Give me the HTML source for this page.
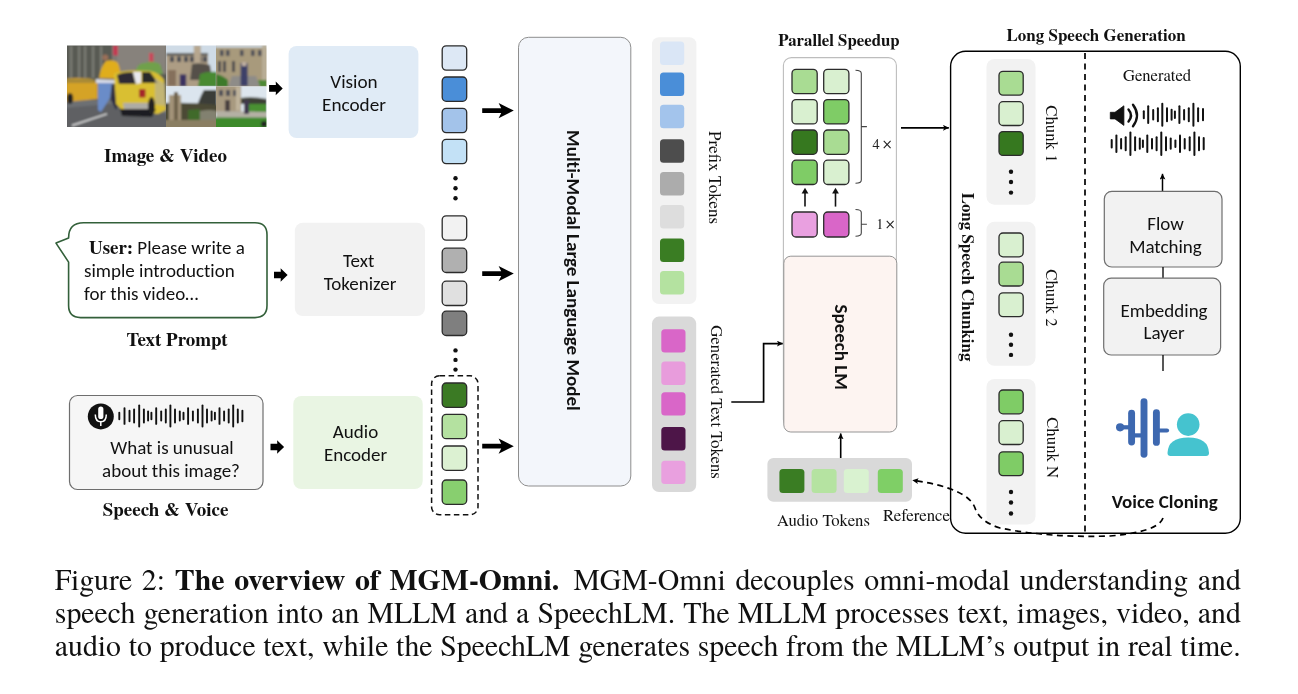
<!DOCTYPE html><html><head><meta charset="utf-8"><title>MGM-Omni overview</title><style>
html,body{margin:0;padding:0;background:#fff;} text.s,tspan.s{font-variant-ligatures:none;}
#wrap{position:relative;width:1298px;height:694px;overflow:hidden;background:#fff;}
svg{position:absolute;left:0;top:0;}
.cap{position:absolute;left:54.8px;width:1186px;font-family:'TeX Gyre Termes', 'Liberation Serif', serif;font-size:29.8px;color:#111;white-space:nowrap;text-align:justify;text-align-last:justify;line-height:32.8px;}
.cap span.l{display:block;}
</style></head><body><div id="wrap">
<svg width="1298" height="694" viewBox="0 0 1298 694">
<defs>
<linearGradient id="bld" x1="0" y1="0" x2="1" y2="0"><stop offset="0" stop-color="#4f4c48"/><stop offset="0.5" stop-color="#6d6862"/><stop offset="1" stop-color="#8c8780"/></linearGradient>
<linearGradient id="road" x1="0" y1="0" x2="0" y2="1"><stop offset="0" stop-color="#6a6b6d"/><stop offset="1" stop-color="#4a4b4e"/></linearGradient>
<linearGradient id="sky" x1="0" y1="0" x2="0" y2="1"><stop offset="0" stop-color="#b9cde0"/><stop offset="1" stop-color="#e8eef2"/></linearGradient>
<clipPath id="c1"><rect x="67" y="45.5" width="99" height="81.5"/></clipPath>
<clipPath id="g1"><rect x="166" y="45.5" width="50" height="41"/></clipPath>
<clipPath id="g2"><rect x="216" y="45.5" width="50.5" height="41"/></clipPath>
<clipPath id="g3"><rect x="166" y="86.5" width="50" height="40.5"/></clipPath>
<clipPath id="g4"><rect x="216" y="86.5" width="50.5" height="40.5"/></clipPath>
<marker id="ah" markerUnits="userSpaceOnUse" viewBox="0 0 6 6" refX="5.8" refY="3" markerWidth="6" markerHeight="6" orient="auto"><path d="M0,0.1 L6,3 L0,5.9 L1.3,3 Z" fill="#000"/></marker>
</defs>
<filter id="soft" x="0" y="0" width="1" height="1"><feGaussianBlur stdDeviation="0.85"/></filter>
<g clip-path="url(#c1)"><g filter="url(#soft)">
<rect x="64" y="42" width="105" height="62" rx="0" fill="#595a52" stroke="none" stroke-width="1" />
<rect x="70" y="46" width="2.2" height="32" fill="#8a8c84" opacity="0.7"/>
<rect x="78" y="46" width="2.2" height="32" fill="#8a8c84" opacity="0.7"/>
<rect x="84" y="46" width="2.2" height="32" fill="#8a8c84" opacity="0.7"/>
<rect x="92" y="46" width="2.2" height="32" fill="#8a8c84" opacity="0.7"/>
<rect x="100" y="46" width="2.2" height="32" fill="#8a8c84" opacity="0.7"/>
<rect x="112" y="42" width="57" height="32" rx="0" fill="#7f7a74" stroke="none" stroke-width="1" />
<rect x="118" y="45" width="1.2" height="26" fill="#a09a92" opacity="0.6"/>
<rect x="121" y="45" width="1.2" height="26" fill="#a09a92" opacity="0.6"/>
<rect x="124" y="45" width="1.2" height="26" fill="#a09a92" opacity="0.6"/>
<rect x="127" y="45" width="1.2" height="26" fill="#a09a92" opacity="0.6"/>
<rect x="130" y="45" width="1.2" height="26" fill="#a09a92" opacity="0.6"/>
<rect x="133" y="45" width="1.2" height="26" fill="#a09a92" opacity="0.6"/>
<rect x="136" y="45" width="1.2" height="26" fill="#a09a92" opacity="0.6"/>
<rect x="139" y="45" width="1.2" height="26" fill="#a09a92" opacity="0.6"/>
<rect x="142" y="45" width="1.2" height="26" fill="#a09a92" opacity="0.6"/>
<rect x="145" y="45" width="1.2" height="26" fill="#a09a92" opacity="0.6"/>
<rect x="148" y="45" width="1.2" height="26" fill="#a09a92" opacity="0.6"/>
<rect x="151" y="45" width="1.2" height="26" fill="#a09a92" opacity="0.6"/>
<rect x="154" y="45" width="1.2" height="26" fill="#a09a92" opacity="0.6"/>
<rect x="157" y="45" width="1.2" height="26" fill="#a09a92" opacity="0.6"/>
<rect x="160" y="45" width="1.2" height="26" fill="#a09a92" opacity="0.6"/>
<rect x="163" y="45" width="1.2" height="26" fill="#a09a92" opacity="0.6"/>
<rect x="113" y="45.5" width="5" height="10" fill="#c23a52"/>
<rect x="149" y="53" width="4.5" height="11" fill="#c84a5a"/>
<path d="M135,74 Q137,62 145,63 Q152,60 160,64 L163,74 Z" fill="#6fa04c"/>
<path d="M64,100 L169,100 L169,130 L64,130 Z" fill="#6d6f73"/>
<path d="M64,108 L110,104 L169,114 L169,130 L64,130 Z" fill="#5e6064"/>
<path d="M72,125.5 L107,113.8" stroke="#e2e2e2" stroke-width="1.4"/>
<path d="M66,79 Q70,77.5 90,78.5 L97.7,82 L97.7,99 L66,102 Z" fill="#d5a325"/>
<rect x="66" y="79" width="30" height="4" fill="#8a7a40" opacity="0.6"/>
<ellipse cx="70" cy="98.5" rx="3.2" ry="5.5" fill="#222"/>
<path d="M99,78 Q101,66 106,61 Q112,59 117,62 Q121,67 120,79 Z" fill="#e0ad1c"/>
<circle cx="105.3" cy="57.5" r="3" fill="#9a7058"/>
<path d="M96,79 L133,81 L132,84 L96,83 Z" fill="#d8dce8"/>
<path d="M98,83 L112,83 L110,98 L101,112 L98,110 Z" fill="#6a8cc8"/>
<path d="M112,84 L118,86 L120,100 L116,110 L111,100 Z" fill="#2a2a40"/>
<path d="M114,74 Q118,70.5 135,70.5 L150,71 Q160,73 164,80 L166,110 L158,114 L122,110 L116,104 Z" fill="#d9bf33"/>
<path d="M117,75 Q122,72 133,72 L136,84 L119,84 Z" fill="#2e2c36"/>
<path d="M133,72 L141,72 L141,83 L136,84 Z" fill="#e8e8ee"/>
<path d="M142,72 L150,72 L158,83 L142,83 Z" fill="#2c2a2a"/>
<rect x="139" y="89" width="6.5" height="8.5" rx="1" fill="#a5282c" stroke="none" stroke-width="1" />
<path d="M123,103 L150,103 L150,109 L124,109 Z" fill="#aeaca4"/>
<path d="M120,109 L156,109 L152,117 L122,116 Z" fill="#1e1e20"/>
<ellipse cx="151.5" cy="106" rx="3.5" ry="9" fill="#222"/>
<path d="M155,78 L165,84 L165,106 L155,104 Z" fill="#b8b090" opacity="0.7"/>
</g></g>
<g clip-path="url(#g1)"><g filter="url(#soft)">
<rect x="162" y="42" width="58" height="48" rx="0" fill="#cfdbe6" stroke="none" stroke-width="1" />
<path d="M166,53.5 Q185,52 208,55 L208,87 L166,87 Z" fill="#ad9d84"/>
<rect x="166" y="53" width="42" height="2.5" rx="0" fill="#5a5a58" stroke="none" stroke-width="1" />
<rect x="170" y="56.5" width="4" height="5.5" rx="0" fill="#4c4e54" stroke="none" stroke-width="1" />
<rect x="177" y="56.5" width="4" height="5.5" rx="0" fill="#4c4e54" stroke="none" stroke-width="1" />
<rect x="184" y="56.5" width="4" height="5.5" rx="0" fill="#4c4e54" stroke="none" stroke-width="1" />
<rect x="190" y="56.5" width="4" height="5.5" rx="0" fill="#4c4e54" stroke="none" stroke-width="1" />
<rect x="198" y="56.5" width="4" height="5.5" rx="0" fill="#4c4e54" stroke="none" stroke-width="1" />
<rect x="203" y="56.5" width="4" height="5.5" rx="0" fill="#4c4e54" stroke="none" stroke-width="1" />
<rect x="193.8" y="45.5" width="7" height="20" rx="0" fill="#b6a68e" stroke="none" stroke-width="1" />
<path d="M192,64 Q200,62 210,65 L212,80 L190,80 Z" fill="#55504a"/>
<path d="M200,74 Q208,71 217,72 L217,87 L198,87 Z" fill="#4a8a30"/>
<rect x="179.8" y="74.4" width="6.4" height="12" rx="0" fill="#3a3260" stroke="none" stroke-width="1" />
<rect x="168" y="70" width="8" height="16" rx="0" fill="#6a5040" stroke="none" stroke-width="1" opacity="0.6"/>
</g></g>
<g clip-path="url(#g2)"><g filter="url(#soft)">
<rect x="213" y="42" width="57" height="48" rx="0" fill="#a89a7c" stroke="none" stroke-width="1" />
<rect x="215" y="45" width="53" height="2.5" rx="0" fill="#d0dce6" stroke="none" stroke-width="1" />
<rect x="220" y="50" width="3.5" height="6" rx="0" fill="#4e5058" stroke="none" stroke-width="1" />
<rect x="226" y="50" width="3.5" height="6" rx="0" fill="#4e5058" stroke="none" stroke-width="1" />
<rect x="240" y="50" width="3.5" height="6" rx="0" fill="#4e5058" stroke="none" stroke-width="1" />
<rect x="251" y="50" width="3.5" height="6" rx="0" fill="#4e5058" stroke="none" stroke-width="1" />
<rect x="258" y="50" width="3.5" height="6" rx="0" fill="#4e5058" stroke="none" stroke-width="1" />
<rect x="218" y="61" width="3" height="11" rx="0" fill="#4e4c50" stroke="none" stroke-width="1" />
<rect x="223" y="61" width="3" height="11" rx="0" fill="#4e4c50" stroke="none" stroke-width="1" />
<rect x="232" y="61" width="3" height="11" rx="0" fill="#4e4c50" stroke="none" stroke-width="1" />
<rect x="262" y="45.5" width="5" height="40" rx="0" fill="#b8ad96" stroke="none" stroke-width="1" />
<path d="M232,76 L256,76 L260,87 L228,87 Z" fill="#8e8c88"/>
<path d="M216,74 Q222,75 228,80 L228,87 L216,87 Z" fill="#3c7a2a"/>
<path d="M258,80 L267,80 L267,87 L260,87 Z" fill="#4e8a34"/>
<rect x="240.6" y="63" width="7" height="23" rx="0" fill="#3c4068" stroke="none" stroke-width="1" />
<rect x="241.8" y="62" width="4.6" height="4" rx="0" fill="#c0b0a0" stroke="none" stroke-width="1" />
</g></g>
<g clip-path="url(#g3)"><g filter="url(#soft)">
<rect x="162" y="84" width="58" height="47" rx="0" fill="#dbe5ee" stroke="none" stroke-width="1" />
<path d="M204,90 L217,90 L217,112 L196,112 Q198,100 204,90 Z" fill="#3a3c38"/>
<path d="M163,103 Q190,102 219,105 L219,131 L163,131 Z" fill="#4c4a36"/>
<rect x="169" y="95" width="12" height="32" rx="0" fill="#a29378" stroke="none" stroke-width="1" />
<rect x="174" y="92" width="4" height="35" rx="0" fill="#6e604a" stroke="none" stroke-width="1" />
<path d="M188,110 L200,109 L200,120 L188,121 Z" fill="#3f6a2c"/>
<path d="M200,111 Q210,109 217,111 L217,121 L200,120 Z" fill="#9a9888" opacity="0.7"/>
<rect x="163" y="120" width="56" height="10" rx="0" fill="#8a7e62" stroke="none" stroke-width="1" />
</g></g>
<g clip-path="url(#g4)"><g filter="url(#soft)">
<rect x="213" y="84" width="57" height="47" rx="0" fill="#dde6ee" stroke="none" stroke-width="1" />
<rect x="213" y="84" width="28" height="28.5" rx="0" fill="#a89a80" stroke="none" stroke-width="1" />
<rect x="219" y="90" width="4" height="6" rx="0" fill="#4e5058" stroke="none" stroke-width="1" />
<rect x="226" y="90" width="4" height="6" rx="0" fill="#4e5058" stroke="none" stroke-width="1" />
<rect x="233" y="90" width="4" height="6" rx="0" fill="#4e5058" stroke="none" stroke-width="1" />
<rect x="225" y="100" width="5" height="12" rx="0" fill="#4a4040" stroke="none" stroke-width="1" />
<rect x="236" y="86.5" width="4" height="24" rx="0" fill="#c0b49c" stroke="none" stroke-width="1" />
<path d="M241,98 Q252,96 267,99 L267,104 L241,104 Z" fill="#3e4036"/>
<path d="M246,104 L267,104 L267,113 L246,113 Z" fill="#4a9030"/>
<path d="M216,111 L267,112 L267,118 L216,118 Z" fill="#b4b0a4"/>
<path d="M213,117.5 L270,117.5 L270,131 L213,131 Z" fill="#3e8a2c"/>
<rect x="244" y="100" width="5" height="14" rx="0" fill="#403850" stroke="none" stroke-width="1" />
<circle cx="264" cy="124" r="3" fill="#222"/>
</g></g>
<text x="165.5" y="161.5" font-family="'TeX Gyre Termes', 'Liberation Serif', serif" font-size="19" font-weight="bold" text-anchor="middle" fill="#111" >Image &amp; Video</text>
<path d="M83.6,222.8 L255,222.8 Q267,222.8 267,234.8 L267,305.6 Q267,317.6 255,317.6 L80.6,317.6 Q68.6,317.6 68.6,305.6 L68.6,262.1 L56,243.1 L68.6,237.9 Q68.6,222.8 83.6,222.8 Z" fill="#fff" stroke="#33603a" stroke-width="1.6" stroke-linejoin="round"/>
<text x="89" y="254" font-size="19" fill="#111"><tspan font-family="'TeX Gyre Termes', 'Liberation Serif', serif" font-weight="bold">User:</tspan><tspan font-family="Carlito, 'Liberation Sans', sans-serif"> Please write a</tspan></text>
<text class="s" x="84" y="276.5" font-family="Carlito, 'Liberation Sans', sans-serif" font-size="19" font-weight="normal" text-anchor="start" fill="#111" >simple introduction</text>
<text class="s" x="84" y="300" font-family="Carlito, 'Liberation Sans', sans-serif" font-size="19" font-weight="normal" text-anchor="start" fill="#111" >for this video…</text>
<text x="177" y="345.5" font-family="'TeX Gyre Termes', 'Liberation Serif', serif" font-size="19" font-weight="bold" text-anchor="middle" fill="#111" >Text Prompt</text>
<rect x="69.5" y="395.5" width="193.5" height="94" rx="8" fill="#f6f6f6" stroke="#6e6e6e" stroke-width="1.2" />
<circle cx="100.8" cy="416.4" r="13" fill="#111"/>
<rect x="98.2" y="406.5" width="5.2" height="12.5" rx="2.6" fill="#fff"/>
<path d="M95.3,414.5 Q95.3,421.8 100.8,421.8 Q106.3,421.8 106.3,414.5" fill="none" stroke="#fff" stroke-width="1.5"/>
<line x1="100.8" y1="421.8" x2="100.8" y2="426" stroke="#fff" stroke-width="1.5"/>
<line x1="119.3" y1="412.7" x2="119.3" y2="419.3" stroke="#111" stroke-width="1.9" stroke-linecap="round"/>
<line x1="124.5" y1="408.1" x2="124.5" y2="423.9" stroke="#111" stroke-width="1.9" stroke-linecap="round"/>
<line x1="129.5" y1="410.8" x2="129.5" y2="421.2" stroke="#111" stroke-width="1.9" stroke-linecap="round"/>
<line x1="134.1" y1="409.5" x2="134.1" y2="422.5" stroke="#111" stroke-width="1.9" stroke-linecap="round"/>
<line x1="139.2" y1="405.5" x2="139.2" y2="426.5" stroke="#111" stroke-width="1.9" stroke-linecap="round"/>
<line x1="143.9" y1="409.5" x2="143.9" y2="422.5" stroke="#111" stroke-width="1.9" stroke-linecap="round"/>
<line x1="148.1" y1="411.4" x2="148.1" y2="420.6" stroke="#111" stroke-width="1.9" stroke-linecap="round"/>
<line x1="151.4" y1="412.7" x2="151.4" y2="419.3" stroke="#111" stroke-width="1.9" stroke-linecap="round"/>
<line x1="156.2" y1="408.1" x2="156.2" y2="423.9" stroke="#111" stroke-width="1.9" stroke-linecap="round"/>
<line x1="161.2" y1="411.4" x2="161.2" y2="420.6" stroke="#111" stroke-width="1.9" stroke-linecap="round"/>
<line x1="165.8" y1="409.5" x2="165.8" y2="422.5" stroke="#111" stroke-width="1.9" stroke-linecap="round"/>
<line x1="170.4" y1="405.5" x2="170.4" y2="426.5" stroke="#111" stroke-width="1.9" stroke-linecap="round"/>
<line x1="175.0" y1="409.5" x2="175.0" y2="422.5" stroke="#111" stroke-width="1.9" stroke-linecap="round"/>
<line x1="179.8" y1="411.4" x2="179.8" y2="420.6" stroke="#111" stroke-width="1.9" stroke-linecap="round"/>
<line x1="183.5" y1="412.7" x2="183.5" y2="419.3" stroke="#111" stroke-width="1.9" stroke-linecap="round"/>
<line x1="188.1" y1="408.1" x2="188.1" y2="423.9" stroke="#111" stroke-width="1.9" stroke-linecap="round"/>
<line x1="192.9" y1="411.4" x2="192.9" y2="420.6" stroke="#111" stroke-width="1.9" stroke-linecap="round"/>
<line x1="197.9" y1="409.5" x2="197.9" y2="422.5" stroke="#111" stroke-width="1.9" stroke-linecap="round"/>
<line x1="202.5" y1="405.5" x2="202.5" y2="426.5" stroke="#111" stroke-width="1.9" stroke-linecap="round"/>
<line x1="207.0" y1="409.5" x2="207.0" y2="422.5" stroke="#111" stroke-width="1.9" stroke-linecap="round"/>
<line x1="211.6" y1="411.4" x2="211.6" y2="420.6" stroke="#111" stroke-width="1.9" stroke-linecap="round"/>
<line x1="214.9" y1="412.7" x2="214.9" y2="419.3" stroke="#111" stroke-width="1.9" stroke-linecap="round"/>
<line x1="219.5" y1="408.1" x2="219.5" y2="423.9" stroke="#111" stroke-width="1.9" stroke-linecap="round"/>
<line x1="224.1" y1="411.4" x2="224.1" y2="420.6" stroke="#111" stroke-width="1.9" stroke-linecap="round"/>
<line x1="228.7" y1="409.5" x2="228.7" y2="422.5" stroke="#111" stroke-width="1.9" stroke-linecap="round"/>
<line x1="233.2" y1="405.5" x2="233.2" y2="426.5" stroke="#111" stroke-width="1.9" stroke-linecap="round"/>
<line x1="237.8" y1="409.5" x2="237.8" y2="422.5" stroke="#111" stroke-width="1.9" stroke-linecap="round"/>
<line x1="242.4" y1="410.8" x2="242.4" y2="421.2" stroke="#111" stroke-width="1.9" stroke-linecap="round"/>
<text class="s" x="172" y="453.5" font-family="Carlito, 'Liberation Sans', sans-serif" font-size="19" font-weight="normal" text-anchor="middle" fill="#111" >What is unusual</text>
<text class="s" x="171" y="476.5" font-family="Carlito, 'Liberation Sans', sans-serif" font-size="19" font-weight="normal" text-anchor="middle" fill="#111" >about this image?</text>
<text x="165.5" y="515.5" font-family="'TeX Gyre Termes', 'Liberation Serif', serif" font-size="19" font-weight="bold" text-anchor="middle" fill="#111" >Speech &amp; Voice</text>
<path d="M269.1,85.10000000000001 L275.90000000000003,85.10000000000001 L275.70000000000005,81.60000000000001 L282.70000000000005,88.4 L275.70000000000005,95.2 L275.90000000000003,91.7 L269.1,91.7 Z" fill="#000"/>
<path d="M274,271.7 L280.8,271.7 L280.6,268.2 L287.6,275 L280.6,281.8 L280.8,278.3 L274,278.3 Z" fill="#000"/>
<path d="M270.5,443.7 L277.3,443.7 L277.1,440.2 L284.1,447 L277.1,453.8 L277.3,450.3 L270.5,450.3 Z" fill="#000"/>
<rect x="288.6" y="46" width="129.8" height="92" rx="8" fill="#e0ebf6" stroke="none" stroke-width="1" />
<text class="s" x="354" y="87.9" font-family="Carlito, 'Liberation Sans', sans-serif" font-size="19.2" font-weight="normal" text-anchor="middle" fill="#111" >Vision</text>
<text class="s" x="354" y="110.8" font-family="Carlito, 'Liberation Sans', sans-serif" font-size="19.2" font-weight="normal" text-anchor="middle" fill="#111" >Encoder</text>
<rect x="294.8" y="222.8" width="130.2" height="93.2" rx="8" fill="#f2f2f2" stroke="none" stroke-width="1" />
<text class="s" x="358.6" y="266.8" font-family="Carlito, 'Liberation Sans', sans-serif" font-size="19" font-weight="normal" text-anchor="middle" fill="#111" >Text</text>
<text class="s" x="360" y="289.8" font-family="Carlito, 'Liberation Sans', sans-serif" font-size="19" font-weight="normal" text-anchor="middle" fill="#111" >Tokenizer</text>
<rect x="293.3" y="396" width="129.4" height="93" rx="8" fill="#e9f5e3" stroke="none" stroke-width="1" />
<text class="s" x="355.5" y="437.5" font-family="Carlito, 'Liberation Sans', sans-serif" font-size="19" font-weight="normal" text-anchor="middle" fill="#111" >Audio</text>
<text class="s" x="355.5" y="460.6" font-family="Carlito, 'Liberation Sans', sans-serif" font-size="19" font-weight="normal" text-anchor="middle" fill="#111" >Encoder</text>
<rect x="442.2" y="45.8" width="24.5" height="24.3" rx="4" fill="#dde8f5" stroke="#2b2b2b" stroke-width="1.3" />
<rect x="442.2" y="77" width="24.5" height="24.3" rx="4" fill="#4a8ed8" stroke="#2b2b2b" stroke-width="1.3" />
<rect x="442.2" y="108.3" width="24.5" height="24.3" rx="4" fill="#a3c3ea" stroke="#2b2b2b" stroke-width="1.3" />
<rect x="442.2" y="139.3" width="24.5" height="24.3" rx="4" fill="#c3e1f6" stroke="#2b2b2b" stroke-width="1.3" />
<circle cx="455.5" cy="178.3" r="2.2" fill="#111"/>
<circle cx="455.5" cy="188.3" r="2.2" fill="#111"/>
<circle cx="455.5" cy="198.2" r="2.2" fill="#111"/>
<rect x="442.2" y="215.8" width="24.5" height="24.3" rx="4" fill="#f2f2f2" stroke="#2b2b2b" stroke-width="1.3" />
<rect x="442.2" y="248.2" width="24.5" height="24.3" rx="4" fill="#b0b0b0" stroke="#2b2b2b" stroke-width="1.3" />
<rect x="442.2" y="281.2" width="24.5" height="24.3" rx="4" fill="#e0e0e0" stroke="#2b2b2b" stroke-width="1.3" />
<rect x="442.2" y="311.2" width="24.5" height="24.3" rx="4" fill="#7f7f7f" stroke="#2b2b2b" stroke-width="1.3" />
<circle cx="455.5" cy="350.4" r="2.2" fill="#111"/>
<circle cx="455.5" cy="359.9" r="2.2" fill="#111"/>
<circle cx="455.5" cy="369.6" r="2.2" fill="#111"/>
<rect x="431.6" y="375.8" width="46.4" height="139" rx="8" fill="none" stroke="#111" stroke-width="1.5" stroke-dasharray="5.5,3.5"/>
<rect x="442.2" y="383" width="24.5" height="24.3" rx="4" fill="#3b7a24" stroke="#2b2b2b" stroke-width="1.3" />
<rect x="442.2" y="414.4" width="24.5" height="24.3" rx="4" fill="#b4e1a0" stroke="#2b2b2b" stroke-width="1.3" />
<rect x="442.2" y="446" width="24.5" height="24.3" rx="4" fill="#dcf1d2" stroke="#2b2b2b" stroke-width="1.3" />
<rect x="442.2" y="480" width="24.5" height="24.3" rx="4" fill="#88cf6f" stroke="#2b2b2b" stroke-width="1.3" />
<path d="M482.2,108.19999999999999 L501.2,108.19999999999999 L498.59999999999997,103.0 L513.8,110.6 L498.59999999999997,118.19999999999999 L501.2,113.0 L482.2,113.0 Z" fill="#000"/>
<path d="M482.2,271.20000000000005 L501.2,271.20000000000005 L498.59999999999997,266.0 L513.8,273.6 L498.59999999999997,281.20000000000005 L501.2,276.0 L482.2,276.0 Z" fill="#000"/>
<path d="M482.2,443.8 L501.2,443.8 L498.59999999999997,438.59999999999997 L513.8,446.2 L498.59999999999997,453.8 L501.2,448.59999999999997 L482.2,448.59999999999997 Z" fill="#000"/>
<rect x="518.5" y="37.3" width="112.3" height="448.7" rx="10" fill="#f3f6fb" stroke="#8e8e8e" stroke-width="1" />
<text class="s" x="573.6" y="270.4" font-family="Carlito, 'Liberation Sans', sans-serif" font-size="19" font-weight="bold" text-anchor="middle" fill="#111" transform="rotate(90 573.6 270.4)" dominant-baseline="central">Multi-Modal Large Language Model</text>
<rect x="652" y="37.3" width="44.4" height="266.7" rx="7" fill="#f2f2f2" stroke="none" stroke-width="1" />
<rect x="660" y="41.4" width="24.2" height="23.5" rx="3.5" fill="#dae6f6" stroke="none" stroke-width="1" />
<rect x="660" y="72.6" width="24.2" height="23.5" rx="3.5" fill="#4a8ed8" stroke="none" stroke-width="1" />
<rect x="660" y="104.7" width="24.2" height="23.5" rx="3.5" fill="#a3c4ec" stroke="none" stroke-width="1" />
<rect x="660" y="139.3" width="24.2" height="23.5" rx="3.5" fill="#4d4d4d" stroke="none" stroke-width="1" />
<rect x="660" y="172" width="24.2" height="23.5" rx="3.5" fill="#acacac" stroke="none" stroke-width="1" />
<rect x="660" y="205" width="24.2" height="23.5" rx="3.5" fill="#dddddd" stroke="none" stroke-width="1" />
<rect x="660" y="238.5" width="24.2" height="23.5" rx="3.5" fill="#3a7d23" stroke="none" stroke-width="1" />
<rect x="660" y="271" width="24.2" height="23.5" rx="3.5" fill="#b4e2a0" stroke="none" stroke-width="1" />
<rect x="652" y="316.6" width="44.2" height="175.4" rx="7" fill="#d9d9d9" stroke="none" stroke-width="1" />
<rect x="661.3" y="329.2" width="24.2" height="23.4" rx="3.5" fill="#d966c8" stroke="none" stroke-width="1" />
<rect x="661.3" y="361.6" width="24.2" height="23.4" rx="3.5" fill="#e89cdc" stroke="none" stroke-width="1" />
<rect x="661.3" y="392.2" width="24.2" height="23.4" rx="3.5" fill="#d966c8" stroke="none" stroke-width="1" />
<rect x="661.3" y="427" width="24.2" height="23.4" rx="3.5" fill="#4d1548" stroke="none" stroke-width="1" />
<rect x="661.3" y="460.7" width="24.2" height="23.4" rx="3.5" fill="#e9a0df" stroke="none" stroke-width="1" />
<text x="715.3" y="177.5" font-family="'TeX Gyre Termes', 'Liberation Serif', serif" font-size="17" font-weight="normal" text-anchor="middle" fill="#111" transform="rotate(90 715.3 177.5)" dominant-baseline="central">Prefix Tokens</text>
<text x="717" y="402" font-family="'TeX Gyre Termes', 'Liberation Serif', serif" font-size="16.8" font-weight="normal" text-anchor="middle" fill="#111" transform="rotate(90 717 402)" dominant-baseline="central">Generated Text Tokens</text>
<path d="M731.3,402 L763.6,402 L763.6,343.6 L782.8,343.6" fill="none" stroke="#000" stroke-width="1.7" marker-end="url(#ah)"/>
<text x="839" y="46" font-family="'TeX Gyre Termes', 'Liberation Serif', serif" font-size="16.8" font-weight="bold" text-anchor="middle" fill="#111" >Parallel Speedup</text>
<rect x="783.4" y="57.6" width="113" height="370" rx="8" fill="#fff" stroke="#bdbdbd" stroke-width="1.1" />
<rect x="792" y="69.4" width="25.2" height="24.3" rx="4" fill="#a9dc93" stroke="#2b2b2b" stroke-width="1.3" />
<rect x="823.7" y="69.4" width="25.2" height="24.3" rx="4" fill="#d9f0d0" stroke="#2b2b2b" stroke-width="1.3" />
<rect x="792" y="99.6" width="25.2" height="24.3" rx="4" fill="#d9f0d0" stroke="#2b2b2b" stroke-width="1.3" />
<rect x="823.7" y="99.6" width="25.2" height="24.3" rx="4" fill="#7fcc66" stroke="#2b2b2b" stroke-width="1.3" />
<rect x="792" y="130" width="25.2" height="24.3" rx="4" fill="#36781f" stroke="#2b2b2b" stroke-width="1.3" />
<rect x="823.7" y="130" width="25.2" height="24.3" rx="4" fill="#a9dc93" stroke="#2b2b2b" stroke-width="1.3" />
<rect x="792" y="160.2" width="25.2" height="24.3" rx="4" fill="#7fcc66" stroke="#2b2b2b" stroke-width="1.3" />
<rect x="823.7" y="160.2" width="25.2" height="24.3" rx="4" fill="#d9f0d0" stroke="#2b2b2b" stroke-width="1.3" />
<line x1="805" y1="206.6" x2="805" y2="192" stroke="#111" stroke-width="1.6"/>
<path d="M801.6,193.5 L805,187.8 L808.4,193.5 Z" fill="#111"/>
<line x1="835.5" y1="206.6" x2="835.5" y2="192" stroke="#111" stroke-width="1.6"/>
<path d="M832.1,193.5 L835.5,187.8 L838.9,193.5 Z" fill="#111"/>
<rect x="792" y="212" width="25.2" height="25" rx="4" fill="#e9a0e0" stroke="#2b2b2b" stroke-width="1.3" />
<rect x="823.7" y="212" width="25.2" height="25" rx="4" fill="#d966c8" stroke="#2b2b2b" stroke-width="1.3" />
<path d="M855.5,70.3 Q861.3,70.3 861.3,73.5 L861.3,180 Q861.3,183.3 855.5,183.3 M861.3,126.6 L866.9,126.6" fill="none" stroke="#444" stroke-width="1.1"/>
<path d="M855.5,209.5 Q861.3,209.5 861.3,212.5 L861.3,233 Q861.3,236.2 855.5,236.2 M861.3,224.3 L866.9,224.3" fill="none" stroke="#444" stroke-width="1.1"/>
<text x="872.6" y="149" font-family="'TeX Gyre Termes', 'Liberation Serif', serif" font-size="14.5" fill="#222">4</text><text x="881.6" y="148.6" font-family="DejaVu Sans, sans-serif" font-size="13.5" fill="#222">×</text>
<text x="876.2" y="229" font-family="'TeX Gyre Termes', 'Liberation Serif', serif" font-size="14.5" fill="#222">1</text><text x="884.6" y="228.6" font-family="DejaVu Sans, sans-serif" font-size="13.5" fill="#222">×</text>
<line x1="901" y1="127.8" x2="948.8" y2="127.8" stroke="#000" stroke-width="1.7" marker-end="url(#ah)"/>
<rect x="783.8" y="256.2" width="113" height="175.8" rx="7" fill="#fdf4f1" stroke="#959595" stroke-width="1" />
<text class="s" x="841.6" y="347.2" font-family="Carlito, 'Liberation Sans', sans-serif" font-size="19" font-weight="bold" text-anchor="middle" fill="#111" transform="rotate(90 841.6 347.2)" dominant-baseline="central">Speech LM</text>
<line x1="840.7" y1="458" x2="840.7" y2="433.5" stroke="#000" stroke-width="1.6" marker-end="url(#ah)"/>
<rect x="767.4" y="458" width="144.6" height="43.7" rx="6" fill="#d9d9d9" stroke="none" stroke-width="1" />
<rect x="779.4" y="469" width="25" height="24" rx="3.5" fill="#3a7d23" stroke="none" stroke-width="1" />
<rect x="811.6" y="469" width="25" height="24" rx="3.5" fill="#b5e3a1" stroke="none" stroke-width="1" />
<rect x="843.8" y="469" width="25" height="24" rx="3.5" fill="#d9f2d0" stroke="none" stroke-width="1" />
<rect x="877.8" y="469" width="25" height="24" rx="3.5" fill="#7fcf66" stroke="none" stroke-width="1" />
<text x="776.8" y="526" font-family="'TeX Gyre Termes', 'Liberation Serif', serif" font-size="16.8" font-weight="normal" text-anchor="start" fill="#111" >Audio Tokens</text>
<text x="883" y="521" font-family="'TeX Gyre Termes', 'Liberation Serif', serif" font-size="16.8" font-weight="normal" text-anchor="start" fill="#111" >Reference</text>
<text x="1096" y="41.4" font-family="'TeX Gyre Termes', 'Liberation Serif', serif" font-size="17" font-weight="bold" text-anchor="middle" fill="#111" >Long Speech Generation</text>
<rect x="950.6" y="51.3" width="289.7" height="481.9" rx="15" fill="#fff" stroke="#000" stroke-width="1.4" />
<line x1="1085" y1="53" x2="1085" y2="533" stroke="#000" stroke-width="1.7" stroke-dasharray="6,4.5"/>
<rect x="986.5" y="59" width="49" height="145.7" rx="8" fill="#f2f2f2" stroke="none" stroke-width="1" />
<rect x="986.5" y="221.7" width="49" height="144.10000000000002" rx="8" fill="#f2f2f2" stroke="none" stroke-width="1" />
<rect x="986.5" y="379" width="49" height="145.39999999999998" rx="8" fill="#f2f2f2" stroke="none" stroke-width="1" />
<rect x="999" y="71.3" width="24.2" height="23.8" rx="4" fill="#a9dc93" stroke="#2b2b2b" stroke-width="1.3" />
<rect x="999" y="101.7" width="24.2" height="23.8" rx="4" fill="#d9f0d0" stroke="#2b2b2b" stroke-width="1.3" />
<rect x="999" y="131.6" width="24.2" height="23.8" rx="4" fill="#36781f" stroke="#2b2b2b" stroke-width="1.3" />
<rect x="999" y="233" width="24.2" height="23.8" rx="4" fill="#d9f0d0" stroke="#2b2b2b" stroke-width="1.3" />
<rect x="999" y="262.2" width="24.2" height="23.8" rx="4" fill="#a9dc93" stroke="#2b2b2b" stroke-width="1.3" />
<rect x="999" y="292.8" width="24.2" height="23.8" rx="4" fill="#d9f0d0" stroke="#2b2b2b" stroke-width="1.3" />
<rect x="999" y="390" width="24.2" height="23.8" rx="4" fill="#7fcc66" stroke="#2b2b2b" stroke-width="1.3" />
<rect x="999" y="420.7" width="24.2" height="23.8" rx="4" fill="#d9f0d0" stroke="#2b2b2b" stroke-width="1.3" />
<rect x="999" y="451.8" width="24.2" height="23.8" rx="4" fill="#7fcc66" stroke="#2b2b2b" stroke-width="1.3" />
<circle cx="1011" cy="171.7" r="2.2" fill="#111"/>
<circle cx="1011" cy="182" r="2.2" fill="#111"/>
<circle cx="1011" cy="192.6" r="2.2" fill="#111"/>
<circle cx="1011" cy="334.7" r="2.2" fill="#111"/>
<circle cx="1011" cy="344.8" r="2.2" fill="#111"/>
<circle cx="1011" cy="354.9" r="2.2" fill="#111"/>
<circle cx="1011" cy="492" r="2.2" fill="#111"/>
<circle cx="1011" cy="502.5" r="2.2" fill="#111"/>
<circle cx="1011" cy="513.5" r="2.2" fill="#111"/>
<text x="1052" y="133.9" font-family="'TeX Gyre Termes', 'Liberation Serif', serif" font-size="16.8" font-weight="normal" text-anchor="middle" fill="#111" transform="rotate(90 1052 133.9)" dominant-baseline="central">Chunk 1</text>
<text x="1052" y="297.9" font-family="'TeX Gyre Termes', 'Liberation Serif', serif" font-size="16.8" font-weight="normal" text-anchor="middle" fill="#111" transform="rotate(90 1052 297.9)" dominant-baseline="central">Chunk 2</text>
<text x="1053" y="447.7" font-family="'TeX Gyre Termes', 'Liberation Serif', serif" font-size="16.8" font-weight="normal" text-anchor="middle" fill="#111" transform="rotate(90 1053 447.7)" dominant-baseline="central">Chunk N</text>
<text x="968" y="277" font-family="'TeX Gyre Termes', 'Liberation Serif', serif" font-size="16.9" font-weight="bold" text-anchor="middle" fill="#111" transform="rotate(90 968 277)" dominant-baseline="central">Long Speech Chunking</text>
<text x="1157" y="81" font-family="'TeX Gyre Termes', 'Liberation Serif', serif" font-size="16.6" font-weight="normal" text-anchor="middle" fill="#111" >Generated</text>
<path d="M1110.3,112.3 L1115,112.3 L1123.9,105.8 L1123.9,125.4 L1115,118.9 L1110.3,118.9 Z" fill="#111" stroke="#111" stroke-width="0.8" stroke-linejoin="round"/>
<path d="M1128.5,109.5 Q1133.5,115.5 1128.5,121.5" fill="none" stroke="#111" stroke-width="2.4" stroke-linecap="round"/>
<path d="M1133,104.8 Q1141,115.5 1133,126.3" fill="none" stroke="#111" stroke-width="2.4" stroke-linecap="round"/>
<line x1="1143.8" y1="111.2" x2="1143.8" y2="118.2" stroke="#111" stroke-width="2.0" stroke-linecap="round"/>
<line x1="1148.2" y1="106.3" x2="1148.2" y2="123.1" stroke="#111" stroke-width="2.0" stroke-linecap="round"/>
<line x1="1153.2" y1="110.0" x2="1153.2" y2="119.4" stroke="#111" stroke-width="2.0" stroke-linecap="round"/>
<line x1="1157.9" y1="108.2" x2="1157.9" y2="121.2" stroke="#111" stroke-width="2.0" stroke-linecap="round"/>
<line x1="1162.3" y1="103.7" x2="1162.3" y2="125.7" stroke="#111" stroke-width="2.0" stroke-linecap="round"/>
<line x1="1167.0" y1="108.2" x2="1167.0" y2="121.2" stroke="#111" stroke-width="2.0" stroke-linecap="round"/>
<line x1="1171.6" y1="109.7" x2="1171.6" y2="119.7" stroke="#111" stroke-width="2.0" stroke-linecap="round"/>
<line x1="1174.9" y1="111.4" x2="1174.9" y2="118.0" stroke="#111" stroke-width="2.0" stroke-linecap="round"/>
<line x1="1179.4" y1="106.3" x2="1179.4" y2="123.1" stroke="#111" stroke-width="2.0" stroke-linecap="round"/>
<line x1="1184.1" y1="110.0" x2="1184.1" y2="119.4" stroke="#111" stroke-width="2.0" stroke-linecap="round"/>
<line x1="1188.8" y1="108.2" x2="1188.8" y2="121.2" stroke="#111" stroke-width="2.0" stroke-linecap="round"/>
<line x1="1193.4" y1="103.7" x2="1193.4" y2="125.7" stroke="#111" stroke-width="2.0" stroke-linecap="round"/>
<line x1="1198.1" y1="108.2" x2="1198.1" y2="121.2" stroke="#111" stroke-width="2.0" stroke-linecap="round"/>
<line x1="1203.0" y1="109.1" x2="1203.0" y2="120.3" stroke="#111" stroke-width="2.0" stroke-linecap="round"/>
<line x1="1111.7" y1="140.0" x2="1111.7" y2="147.4" stroke="#111" stroke-width="2.0" stroke-linecap="round"/>
<line x1="1116.4" y1="135.5" x2="1116.4" y2="151.9" stroke="#111" stroke-width="2.0" stroke-linecap="round"/>
<line x1="1121.1" y1="139.0" x2="1121.1" y2="148.4" stroke="#111" stroke-width="2.0" stroke-linecap="round"/>
<line x1="1125.7" y1="137.2" x2="1125.7" y2="150.2" stroke="#111" stroke-width="2.0" stroke-linecap="round"/>
<line x1="1130.4" y1="132.5" x2="1130.4" y2="154.9" stroke="#111" stroke-width="2.0" stroke-linecap="round"/>
<line x1="1135.1" y1="137.2" x2="1135.1" y2="150.2" stroke="#111" stroke-width="2.0" stroke-linecap="round"/>
<line x1="1139.8" y1="138.6" x2="1139.8" y2="148.8" stroke="#111" stroke-width="2.0" stroke-linecap="round"/>
<line x1="1142.9" y1="140.4" x2="1142.9" y2="147.0" stroke="#111" stroke-width="2.0" stroke-linecap="round"/>
<line x1="1147.3" y1="135.5" x2="1147.3" y2="151.9" stroke="#111" stroke-width="2.0" stroke-linecap="round"/>
<line x1="1152.0" y1="139.0" x2="1152.0" y2="148.4" stroke="#111" stroke-width="2.0" stroke-linecap="round"/>
<line x1="1156.6" y1="137.2" x2="1156.6" y2="150.2" stroke="#111" stroke-width="2.0" stroke-linecap="round"/>
<line x1="1161.3" y1="132.5" x2="1161.3" y2="154.9" stroke="#111" stroke-width="2.0" stroke-linecap="round"/>
<line x1="1166.0" y1="137.2" x2="1166.0" y2="150.2" stroke="#111" stroke-width="2.0" stroke-linecap="round"/>
<line x1="1170.7" y1="138.6" x2="1170.7" y2="148.8" stroke="#111" stroke-width="2.0" stroke-linecap="round"/>
<line x1="1175.4" y1="140.4" x2="1175.4" y2="147.0" stroke="#111" stroke-width="2.0" stroke-linecap="round"/>
<line x1="1180.0" y1="135.5" x2="1180.0" y2="151.9" stroke="#111" stroke-width="2.0" stroke-linecap="round"/>
<line x1="1184.7" y1="139.0" x2="1184.7" y2="148.4" stroke="#111" stroke-width="2.0" stroke-linecap="round"/>
<line x1="1189.7" y1="137.2" x2="1189.7" y2="150.2" stroke="#111" stroke-width="2.0" stroke-linecap="round"/>
<line x1="1194.4" y1="132.5" x2="1194.4" y2="154.9" stroke="#111" stroke-width="2.0" stroke-linecap="round"/>
<line x1="1199.0" y1="137.2" x2="1199.0" y2="150.2" stroke="#111" stroke-width="2.0" stroke-linecap="round"/>
<line x1="1203.7" y1="138.1" x2="1203.7" y2="149.3" stroke="#111" stroke-width="2.0" stroke-linecap="round"/>
<line x1="1162.5" y1="191" x2="1162.5" y2="173.8" stroke="#000" stroke-width="1.5" marker-end="url(#ah)"/>
<rect x="1104.3" y="191.4" width="117.7" height="75.6" rx="7.5" fill="#f2f2f2" stroke="#6e6e6e" stroke-width="1.2" />
<text class="s" x="1165.5" y="230" font-family="Carlito, 'Liberation Sans', sans-serif" font-size="19" font-weight="normal" text-anchor="middle" fill="#111" >Flow</text>
<text class="s" x="1165.5" y="252.5" font-family="Carlito, 'Liberation Sans', sans-serif" font-size="19" font-weight="normal" text-anchor="middle" fill="#111" >Matching</text>
<line x1="1163" y1="267" x2="1163" y2="278" stroke="#111" stroke-width="1.4"/>
<rect x="1103.7" y="278.2" width="116.9" height="76.8" rx="7.5" fill="#f2f2f2" stroke="#6e6e6e" stroke-width="1.2" />
<text class="s" x="1164" y="316.5" font-family="Carlito, 'Liberation Sans', sans-serif" font-size="19" font-weight="normal" text-anchor="middle" fill="#111" >Embedding</text>
<text class="s" x="1164" y="339" font-family="Carlito, 'Liberation Sans', sans-serif" font-size="19" font-weight="normal" text-anchor="middle" fill="#111" >Layer</text>
<line x1="1163" y1="355" x2="1163" y2="371" stroke="#111" stroke-width="1.4"/>
<circle cx="1120.1" cy="427.3" r="4.1" fill="#3d68b0"/>
<path d="M1120.1,427.3 L1129,427.3" stroke="#3d68b0" stroke-width="4.2"/>
<path d="M1134.5,435.4 L1141,435.4" stroke="#3d68b0" stroke-width="4.2"/>
<path d="M1159,430.5 L1167,430.5" stroke="#3d68b0" stroke-width="4.2" stroke-linecap="round"/>
<line x1="1131.6" y1="413.2" x2="1131.6" y2="442" stroke="#3d68b0" stroke-width="6.9" stroke-linecap="round"/>
<line x1="1144" y1="401.8" x2="1144" y2="454.3" stroke="#3d68b0" stroke-width="6.9" stroke-linecap="round"/>
<line x1="1156.4" y1="412.6" x2="1156.4" y2="442.4" stroke="#3d68b0" stroke-width="6.9" stroke-linecap="round"/>
<circle cx="1188.2" cy="424.6" r="11.3" fill="#45c3cf"/>
<path d="M1167.5,453 Q1168,437.5 1188.3,437.5 Q1208.5,437.5 1209,453 Q1209,456 1206,456 L1170.5,456 Q1167.5,456 1167.5,453 Z" fill="#45c3cf"/>
<text class="s" x="1164.7" y="507.8" font-family="Carlito, 'Liberation Sans', sans-serif" font-size="19" font-weight="bold" text-anchor="middle" fill="#111" >Voice Cloning</text>
<path d="M1163,518 Q1158,532 1110,536 Q1050,538 1000,528 Q980,522 975,508 Q968,488 912.5,480.3" fill="none" stroke="#000" stroke-width="1.7" stroke-dasharray="6,4.5" marker-end="url(#ah)"/>
</svg>
<div class="cap" style="top:563.2px">
<span class="l">Figure 2: <b>The overview of MGM-Omni.</b><span style="display:inline-block;width:4.5px"></span> MGM-Omni decouples omni-modal understanding and</span>
<span class="l">speech generation into an MLLM and a SpeechLM. The MLLM processes text, images, video, and</span>
<span class="l">audio to produce text, while the SpeechLM generates speech from the MLLM’s output in real time.</span>
</div>
</div></body></html>
